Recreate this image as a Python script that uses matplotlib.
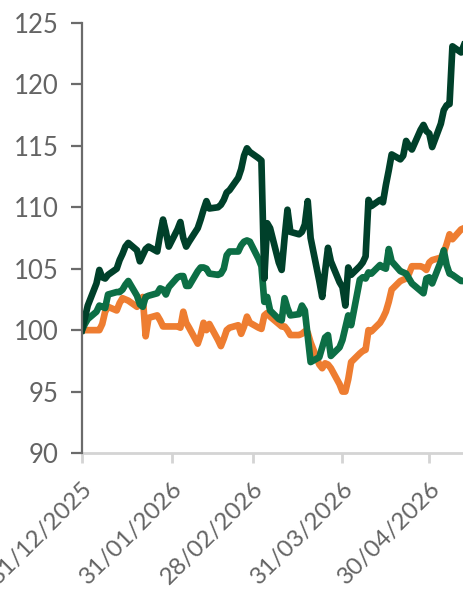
import matplotlib
matplotlib.use("Agg")
import matplotlib.pyplot as plt
import matplotlib.dates as mdates
import pandas as pd

# business days, 31/12/2025 .. 12/05/2026
dates = pd.bdate_range("2025-12-31", "2026-05-12")

dark_green = [
    100.0, 101.0, 102.0,
    103.8, 104.9, 104.3, 104.2, 104.5,
    105.0, 105.7, 106.2, 106.8, 107.1,
    106.5, 105.6, 106.1, 106.6, 106.8,
    106.4, 107.8, 109.0, 108.0, 106.8,
    108.2, 108.8, 107.5, 106.8, 107.2,
    108.3, 109.0, 109.8, 110.5, 109.9,
    110.0, 110.2, 110.6, 111.2, 111.4,
    112.4, 113.1, 114.2, 114.8, 114.5,
    114.0, 113.8, 104.2, 108.7, 108.3,
    105.5, 104.9, 107.5, 109.8, 108.0,
    107.8, 108.0, 108.6, 110.5, 107.5,
    104.0, 102.7, 104.8, 106.7, 105.6,
    103.9, 103.5, 102.0, 105.1, 104.5,
    105.2, 105.5, 106.0, 110.6, 110.1,
    110.6, 110.4, 111.8, 113.0, 114.3,
    113.9, 114.2, 115.4, 115.0, 114.7,
    116.3, 116.7, 116.2, 116.0, 114.9,
    116.8, 117.9, 118.3, 118.4, 123.1,
    122.6, 123.2,
]

mid_green = [
    100.0, 100.5, 100.9,
    101.5, 102.0, 101.9, 101.8, 102.9,
    103.1, 103.1, 103.3, 103.7, 104.0,
    102.8, 102.1, 101.9, 102.7, 102.8,
    103.0, 103.4, 103.3, 102.9, 103.5,
    104.3, 104.4, 104.4, 103.6, 103.6,
    104.8, 105.1, 105.1, 105.0, 104.6,
    104.5, 104.6, 105.0, 106.1, 106.4,
    106.4, 106.9, 107.2, 107.3, 107.2,
    105.8, 105.2, 102.3, 102.7, 101.6,
    100.9, 100.8, 102.6, 101.8, 101.2,
    101.3, 102.0, 101.6, 99.5, 97.4,
    97.8, 98.6, 99.4, 99.6, 97.9,
    98.6, 99.2, 100.2, 101.2, 100.4,
    104.1, 104.3, 104.2, 104.7, 104.6,
    105.3, 105.1, 105.0, 106.6, 105.6,
    104.8, 104.7, 104.6, 104.2, 103.8,
    103.2, 103.0, 104.2, 104.3, 103.8,
    105.6, 106.5, 105.3, 104.6, 104.5,
    104.0, 104.0,
]

orange = [
    100.0, 100.0, 100.0,
    100.0, 100.0, 100.5, 101.5, 101.9,
    101.6, 102.2, 102.6, 102.5, 102.4,
    101.9, 102.3, 102.7, 99.5, 101.0,
    101.2, 100.8, 100.3, 100.3, 100.3,
    100.3, 100.2, 101.5, 100.6, 100.2,
    98.9, 99.6, 100.6, 100.0, 100.5,
    99.2, 98.7, 99.3, 100.0, 100.2,
    100.4, 99.7, 100.3, 101.1, 100.6,
    100.2, 100.1, 101.2, 101.4, 101.1,
    100.5, 100.3, 100.3, 100.0, 99.6,
    99.6, 99.7, 99.9, 99.8, 99.0,
    97.2, 96.9, 97.3, 97.2, 96.9,
    95.6, 95.0, 95.0, 96.0, 97.4,
    98.1, 98.3, 98.4, 100.0, 99.9,
    100.6, 101.0, 101.5, 102.3, 103.3,
    104.0, 104.1, 104.2, 104.6, 105.2,
    105.2, 105.1, 104.9, 105.5, 105.7,
    105.9, 106.3, 107.0, 107.8, 107.4,
    108.2, 108.3,
]

tick_dates = ["2025-12-31", "2026-01-31", "2026-02-28", "2026-03-31", "2026-04-30"]
y_ticks = [90, 95, 100, 105, 110, 115, 120, 125]

fig = plt.figure(figsize=(4.64, 5.89), dpi=100)
ax = fig.add_axes([0.1767, 0.2309, 0.8233, 0.7301])

lw = 4.8
ax.plot(dates, orange, color="#EE7D31", lw=lw, solid_joinstyle="round")
ax.plot(dates, mid_green, color="#0C6E45", lw=lw, solid_joinstyle="round")
ax.plot(dates, dark_green, color="#00402A", lw=lw, solid_joinstyle="round")

ax.set_ylim(90, 125)
ax.set_xlim(pd.Timestamp("2025-12-31"), pd.Timestamp("2026-05-12"))
ax.set_yticks(y_ticks)
ax.set_xticks(pd.to_datetime(tick_dates))
ax.xaxis.set_major_formatter(mdates.DateFormatter("%d/%m/%Y"))

for s in ["top", "right"]:
    ax.spines[s].set_visible(False)
ax.spines["left"].set_color("#6b6b6b")
ax.spines["left"].set_linewidth(1.6)
ax.spines["bottom"].set_color("#d4d4d4")
ax.spines["bottom"].set_linewidth(2)
ax.spines["left"].set_zorder(5)

ax.tick_params(axis="y", length=8, width=1.6, color="#6b6b6b", pad=9,
               labelsize=18.5, labelcolor="#646464")
ax.tick_params(axis="x", length=7, width=2, color="#d4d4d4", pad=11,
               labelsize=17.5, labelcolor="#646464")
for lab in ax.get_yticklabels() + ax.get_xticklabels():
    lab.set_fontfamily("Lato")
for lab in ax.get_xticklabels():
    lab.set_rotation(45)
    lab.set_ha("right")
    lab.set_va("top")
    lab.set_rotation_mode("anchor")

fig.savefig("out.png", dpi=100)
